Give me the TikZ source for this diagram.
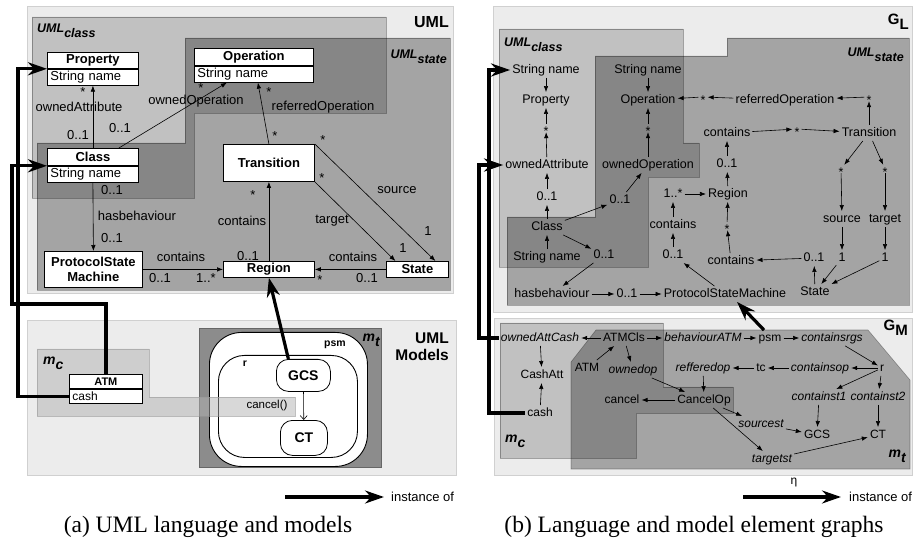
\documentclass[tikz,border=0pt]{standalone}
\usepackage{fontspec}
\setmainfont{Liberation Serif}
\setsansfont{Liberation Sans}
\usepackage{tikz}
\usetikzlibrary{arrows.meta,positioning}
\definecolor{panelbg}{RGB}{236,236,236}
\definecolor{panelln}{RGB}{208,208,208}

\newcommand{\fsz}[1]{\fontsize{#1}{#1}\selectfont}
\newcommand{\mstar}{\raisebox{-5.5pt}{*}}
\newcommand{\lowr}[1]{\raisebox{-5pt}{#1}}

\tikzset{
  every node/.style={font=\sffamily\fsz{13}},
  panel/.style={fill=panelbg, draw=panelln, line width=1pt},
  lang/.style={fill=black, fill opacity=0.18, draw=black, draw opacity=0.3, line width=0.6pt},
  langst/.style={fill=black, fill opacity=0.30, draw=black, draw opacity=0.3, line width=0.6pt},
  ttl/.style={font=\sffamily\bfseries\fsz{16}, inner sep=0pt},
  sublbl/.style={font=\sffamily\bfseries\itshape\fsz{12.5}, inner sep=0pt},
  hdr/.style={draw, fill=white, font=\sffamily\bfseries\fsz{13}, inner sep=0pt, line width=0.8pt},
  attr/.style={draw, fill=white, align=left, inner xsep=3pt, inner ysep=0pt, line width=0.8pt},
  ubox/.style={draw, fill=white, font=\sffamily\bfseries\fontsize{13}{15}\selectfont, inner sep=0pt, line width=0.8pt, align=center},
  sbox/.style={draw, fill=white, font=\sffamily\bfseries\fsz{14}, rounded corners=12pt, line width=0.8pt, inner sep=0pt},
  lbl/.style={inner sep=0pt},
  ast/.style={inner sep=2pt, text height=4pt, text depth=0pt},
  gl/.style={font=\sffamily\fsz{12.5}, inner sep=2pt, text height=9pt, text depth=2.5pt},
  glast/.style={font=\sffamily\fsz{12.5}, inner sep=2pt, text height=4pt, text depth=0pt},
  gm/.style={gl, font=\sffamily\fsz{12}},
  gmi/.style={gl, font=\sffamily\itshape\fsz{12}},
  arr/.style={-{Latex[length=6pt,width=4.5pt]}, line width=0.6pt},
  inst/.style={-{Stealth[length=19pt,width=13pt]}, line width=3.2pt},
  captxt/.style={font=\rmfamily\fsz{23.5}}
}

\begin{document}
\begin{tikzpicture}[x=1pt, y=-1pt]
\useasboundingbox (0,0) rectangle (914,540);
\fill[white] (0,0) rectangle (914,540);

% (a) UML language
\draw[panel] (27,7) rectangle (453,294);
\draw[lang] (32,17) -- (386,17) -- (386,113) -- (194,113) -- (194,198) -- (32,198) -- cycle;
\draw[langst] (37,143) -- (185,143) -- (185,38) -- (450,38) -- (450,290) -- (37,290) -- cycle;
\node[ttl, anchor=east] (umlttl) at (449,22) {UML};
\node[sublbl, anchor=west] (umlcls) at (37,31) {UML\lowr{class}};
\node[sublbl, anchor=east] (umlst) at (447,57) {UML\lowr{state}};

\node[hdr, minimum width=91pt, minimum height=16pt, anchor=north west] (prophdr) at (47,52) {Property};
\node[attr, text width=85pt, minimum height=16pt, below=0pt of prophdr] (propattr) {String name};
\node[hdr, minimum width=119pt, minimum height=17pt, anchor=north west] (ophdr) at (194,48) {Operation};
\node[attr, text width=113pt, minimum height=16pt, below=0pt of ophdr] (opattr) {String name};
\node[hdr, minimum width=91pt, minimum height=17pt, anchor=north west] (clshdr) at (47,148) {Class};
\node[attr, text width=85pt, minimum height=16pt, below=0pt of clshdr] (clsattr) {String name};
\node[ubox, minimum width=91pt, minimum height=37pt, anchor=north west] (trans) at (223,144) {Transition};
\node[ubox, minimum width=98pt, minimum height=36pt, anchor=north west] (psm) at (44,251) {ProtocolState\\Machine};
\node[ubox, minimum width=91pt, minimum height=16pt, anchor=north west] (region) at (223,261) {Region};
\node[ubox, minimum width=62pt, minimum height=16pt, anchor=north west] (state) at (386,261) {State};

\draw[arr] (clshdr.north) -- (propattr.south);
\draw[arr] ([xshift=26pt]clshdr.north) -- ([xshift=-27pt]opattr.south);
\draw[arr] (trans.north) -- ([xshift=4pt]opattr.south);
\draw[arr] (trans.south east) -- ([xshift=-22pt]state.north);
\draw[arr] (trans.north east) -- ([xshift=18pt]state.north);
\draw[arr] (region.north) -- (trans.south);
\draw[arr] (state.west) -- (region.east);
\draw[arr] (psm.east) -- (region.west);
\draw[arr] (clsattr.south) -- (psm.north);

\node[ast] (a1) at (83,89) {\mstar};
\node[lbl] (a2) at (79,107) {ownedAttribute};
\node[lbl] (a3) at (78,135) {0..1};
\node[lbl] (a4) at (120,128) {0..1};
\node[ast] (a5) at (201,85) {\mstar};
\node[lbl] (a6) at (196,101) {ownedOperation};
\node[ast] (a7) at (269,89) {\mstar};
\node[lbl] (a8) at (323,107) {referredOperation};
\node[ast] (a9) at (275,133) {\mstar};
\node[ast] (a10) at (323,137) {\mstar};
\node[ast] (a11) at (322,175) {\mstar};
\node[lbl] (a12) at (397,190) {source};
\node[lbl] (a13) at (332,221) {target};
\node[lbl] (a14) at (428,231) {1};
\node[lbl] (a15) at (403,248) {1};
\node[lbl] (a16) at (242,221) {contains};
\node[ast] (a17) at (253,192) {\mstar};
\node[lbl] (a18) at (248,256) {0..1};
\node[lbl] (a19) at (353,257) {contains};
\node[lbl] (a20) at (367,278) {0..1};
\node[ast] (a21) at (320,277) {\mstar};
\node[lbl] (a22) at (181,257) {contains};
\node[lbl] (a23) at (160,278) {0..1};
\node[lbl] (a24) at (206,278) {1..*};
\node[lbl] (a25) at (112,190) {0..1};
\node[lbl] (a26) at (137,216) {hasbehaviour};
\node[lbl] (a27) at (112,238) {0..1};

% (a) UML models
\draw[panel] (27,321) rectangle (456,475);
\node[anchor=east, align=right, font=\sffamily\bfseries\fontsize{15.5}{17}\selectfont, inner sep=0pt] (umlmod) at (449,347) {UML\\Models};
\draw[fill=black!45, draw=black!60] (199,328) rectangle (381,467);
\node[sublbl, anchor=east, font=\sffamily\bfseries\itshape\fsz{14}] (mtl) at (380,340) {m\lowr{t}};
\node[draw, fill=white, line width=0.9pt, rounded corners=32pt, minimum width=158pt, minimum height=134pt, anchor=north west, inner sep=0pt] (psmst) at (209,332) {};
\node[draw, fill=white, line width=0.9pt, rounded corners=26pt, minimum width=139pt, minimum height=102pt, anchor=north west, inner sep=0pt] (rst) at (218,355) {};
\node[font=\sffamily\bfseries\fsz{10.5}, inner sep=0pt] (psmlbl) at (335,345) {psm};
\node[font=\sffamily\bfseries\fsz{10.5}, inner sep=0pt] (rlbl) at (245,364) {r};
\node[sbox, minimum width=54pt, minimum height=32pt, anchor=north west] (gcs) at (276,359) {GCS};
\node[sbox, minimum width=47pt, minimum height=35pt, anchor=north west] (ct) at (280,420) {CT};
\draw[-{Straight Barb[length=4pt,width=7pt]}, line width=0.6pt] (gcs) -- (ct);
\draw[fill=black!30, fill opacity=0.5, draw=black!40, draw opacity=0.6] (37,349) -- (149,349) -- (149,397) -- (295,397) -- (295,416) -- (37,416) -- cycle;
\node[lbl, font=\sffamily\fsz{11.5}] (cnl) at (267,406) {cancel()};
\node[sublbl, anchor=west, font=\sffamily\bfseries\itshape\fsz{14}] (mcl) at (43,363) {m\lowr{c}};
\node[hdr, font=\sffamily\bfseries\fsz{11}, minimum width=73pt, minimum height=14pt, anchor=north west] (atmhdr) at (69,374) {ATM};
\node[attr, font=\sffamily\fsz{12}, text width=67pt, minimum height=14pt, below=0pt of atmhdr] (atmattr) {cash};

% instance-of links, panel a
\coordinate (kinkA) at (12,304);
\draw[inst] ([xshift=-15pt]gcs.north) -- (region.south);
\draw[inst] (atmattr.west) -- ++(-51pt,0pt) |- (prophdr.south west);
\draw[inst] (atmhdr.north) |- (kinkA) |- (clshdr.south west);

\coordinate (legA) at (285,497);
\coordinate (legB) at (384,497);
\draw[inst] (legA) -- (legB);
\node[anchor=west, inner sep=0pt] (legAl) at (391,497) {instance of};
\node[captxt] (capa) at (208,527) {(a) UML language and models};

% (b) G_L
\draw[panel] (493,7) rectangle (912.5,313);
\draw[lang] (499,29) -- (683,29) -- (683,143) -- (699,143) -- (699,177) -- (648,177) -- (648,267) -- (499,267) -- cycle;
\draw[langst] (507,305) -- (507,217) -- (595,217) -- (595,56) -- (727,56) -- (727,38) -- (909,38) -- (909,305) -- cycle;
\node[ttl, anchor=east, font=\sffamily\bfseries\fsz{15}] (glttl) at (909,22) {G\lowr{L}};
\node[sublbl, anchor=west] (umlcls2) at (504,45) {UML\lowr{class}};
\node[sublbl, anchor=east] (umlst2) at (904,55) {UML\lowr{state}};

\node[gl] (sn1) at (546,70) {String name};
\node[gl] (prop) at (546,100) {Property};
\node[glast] (st1) at (546,128) {\mstar};
\node[gl] (oattr) at (547,165) {ownedAttribute};
\node[gl] (m1) at (547,197) {0..1};
\node[gl] (cls) at (547,227) {Class};
\node[gl] (sn3) at (547,257) {String name};
\node[gl] (sn2) at (648,70) {String name};
\node[gl] (op) at (648,100) {Operation};
\node[glast] (st2) at (648,128) {\mstar};
\node[gl] (oop) at (648,165) {ownedOperation};
\node[gl] (m2) at (620,200) {0..1};
\node[gl] (m3) at (604,255) {0..1};
\node[gl] (hasb) at (552,294) {hasbehaviour};
\node[gl] (m4) at (627,294) {0..1};
\node[gl] (psmL) at (725,294) {ProtocolStateMachine};
\node[glast] (st3) at (703,97) {\mstar};
\node[gl] (refop) at (785,100) {referredOperation};
\node[glast] (st4) at (869,97) {\mstar};
\node[gl] (cont1) at (727,133) {contains};
\node[glast] (st5) at (797,129) {\mstar};
\node[gl] (trans2) at (869,133) {Transition};
\node[gl] (m5) at (727,164) {0..1};
\node[gl] (reg) at (728,194) {Region};
\node[gl] (m6) at (673,194) {1..*};
\node[gl] (cont2) at (673,225) {contains};
\node[gl] (m7) at (673,255) {0..1};
\node[glast] (st6) at (727,226) {\mstar};
\node[gl] (cont3) at (731,261) {contains};
\node[glast] (st7) at (841,169) {\mstar};
\node[glast] (st8) at (885,169) {\mstar};
\node[gl] (src) at (842,219) {source};
\node[gl] (tgt) at (885,219) {target};
\node[gl] (one1) at (842,258) {1};
\node[gl] (one2) at (885,258) {1};
\node[gl] (m8) at (814,258) {0..1};
\node[gl] (stateL) at (815,292) {State};

\draw[arr] (sn1) -- (prop);
\draw[arr] (st1) -- (prop);
\draw[arr] (oattr) -- (st1);
\draw[arr] (m1) -- (oattr);
\draw[arr] (cls) -- (m1);
\draw[arr] (sn3) -- (cls);
\draw[arr] (sn2) -- (op);
\draw[arr] (st2) -- (op);
\draw[arr] (oop) -- (st2);
\draw[arr] (m2) -- (oop);
\draw[arr] (cls) -- (m2);
\draw[arr] (cls) -- (m3);
\draw[arr] (m3) -- (hasb);
\draw[arr] (hasb) -- (m4);
\draw[arr] (m4) -- (psmL);
\draw[arr] (psmL) -- (m7);
\draw[arr] (m7) -- (cont2);
\draw[arr] (cont2) -- (m6);
\draw[arr] (m6) -- (reg);
\draw[arr] (reg) -- (m5);
\draw[arr] (m5) -- (cont1);
\draw[arr] (cont1) -- (st5);
\draw[arr] (st5) -- (trans2);
\draw[arr] (trans2) -- (st4);
\draw[arr] (st4) -- (refop);
\draw[arr] (refop) -- (st3);
\draw[arr] (st3) -- (op);
\draw[arr] (cont3) -- (st6);
\draw[arr] (st6) -- (reg);
\draw[arr] (m8) -- (cont3);
\draw[arr] (stateL) -- (m8);
\draw[arr] (trans2) -- (st7);
\draw[arr] (trans2) -- (st8);
\draw[arr] (st7) -- (src);
\draw[arr] (st8) -- (tgt);
\draw[arr] (src) -- (one1);
\draw[arr] (tgt) -- (one2);
\draw[arr] (one1) -- (stateL);
\draw[arr] (one2) -- (stateL);

% (b) G_M
\draw[panel] (494,319) rectangle (912.5,475);
\draw[langst] (571,362) -- (596,330) -- (868,330) -- (910,380) -- (910,469) -- (571,469) -- cycle;
\draw[lang] (500,323) -- (663,323) -- (663,387) -- (733,387) -- (733,413) -- (636,413) -- (636,458) -- (500,458) -- cycle;
\node[ttl, anchor=east, font=\sffamily\bfseries\fsz{15}] (gmttl) at (908,328) {G\lowr{M}};
\node[sublbl, anchor=west, font=\sffamily\bfseries\itshape\fsz{14}] (mcl2) at (505,441) {m\lowr{c}};
\node[sublbl, anchor=east, font=\sffamily\bfseries\itshape\fsz{14}] (mtl2) at (906,456) {m\lowr{t}};

\node[gmi] (oac) at (540,338) {ownedAttCash};
\node[gm] (atmcls) at (624,338) {ATMCls};
\node[gmi] (behatm) at (703,338) {behaviourATM};
\node[gm] (psmM) at (770,338) {psm};
\node[gmi] (crgs) at (832,338) {containsrgs};
\node[gm] (cashatt) at (542,375) {CashAtt};
\node[gm] (atm) at (587,368) {ATM};
\node[gmi] (odop) at (633,370) {ownedop};
\node[gmi] (refd) at (703,368) {refferedop};
\node[gm] (tc) at (761,368) {tc};
\node[gmi] (cop) at (820,368) {containsop};
\node[gm] (r) at (882,368) {r};
\node[gm] (cash) at (540,413) {cash};
\node[gm] (cancel) at (622,400) {cancel};
\node[gm] (cancelop) at (704,400) {CancelOp};
\node[gmi] (ct1) at (819,397) {containst1};
\node[gmi] (ct2) at (878,397) {containst2};
\node[gmi] (srcst) at (761,424) {sourcest};
\node[gm] (gcsM) at (817,435) {GCS};
\node[gm] (ctM) at (878,435) {CT};
\node[gmi] (tgtst) at (772,459) {targetst};

\draw[arr] (atmcls) -- (oac);
\draw[arr] (oac) -- (cashatt);
\draw[arr] (cash) -- (cashatt);
\draw[arr] (atm) -- (atmcls);
\draw[arr] (atmcls) -- (odop);
\draw[arr] (odop) -- (cancelop);
\draw[arr] (cancelop) -- (cancel);
\draw[arr] (atmcls) -- (behatm);
\draw[arr] (behatm) -- (psmM);
\draw[arr] (psmM) -- (crgs);
\draw[arr] (crgs) -- (r);
\draw[arr] (r) -- (cop);
\draw[arr] (cop) -- (tc);
\draw[arr] (tc) -- (refd);
\draw[arr] (refd) -- (cancelop);
\draw[arr] (r) -- (ct1);
\draw[arr] (r) -- (ct2);
\draw[arr] (ct1) -- (gcsM);
\draw[arr] (ct2) -- (ctM);
\draw[arr] (cancelop) -- (srcst);
\draw[arr] (srcst) -- (gcsM);
\draw[arr] (cancelop) -- (tgtst);
\draw[arr] (tgtst) -- (ctM);

% instance-of links, panel b
\coordinate (kinkB) at (479,0);
\coordinate (kinkC) at (489,0);
\draw[inst] (oac.west) -- (oac.west -| kinkB) |- (oattr.west);
\draw[inst] (cash.west) -- (cash.west -| kinkC) |- (sn1.west);
\draw[inst] ([xshift=-6pt]psmM.north) -- ([xshift=12pt]psmL.south);

\coordinate (legC) at (743,497);
\coordinate (legD) at (841,497);
\draw[inst] (legC) -- (legD);
\node[inner sep=0pt, font=\sffamily\fsz{12}] (eta) at (794,483) {η};
\node[anchor=west, inner sep=0pt] (legBl) at (849,497) {instance of};
\node[captxt] (capb) at (694,527) {(b) Language and model element graphs};
\end{tikzpicture}
\end{document}
